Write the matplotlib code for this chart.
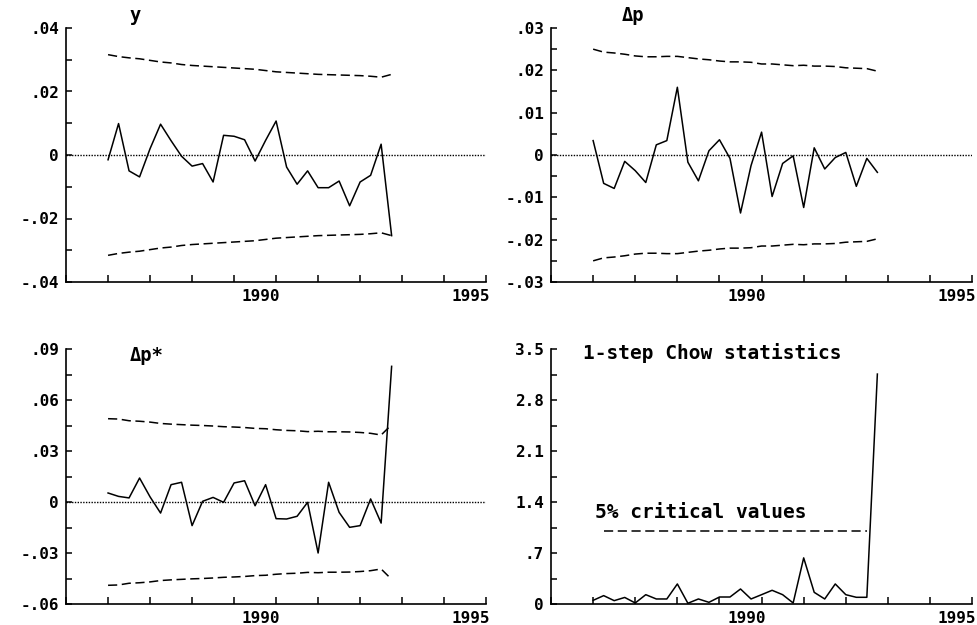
import numpy as np
import pandas as pd
import matplotlib
matplotlib.use("Agg")
import matplotlib.pyplot as plt
import matplotlib.transforms as mtransforms
from matplotlib.ticker import MultipleLocator, FuncFormatter

# quarterly sample 1986(1) - 1992(4)
periods = pd.period_range("1986Q1", "1992Q4", freq="Q")

# 1-step residuals and +-2SE bands
y_res = [-0.0015, 0.0099, -0.0050, -0.0069, 0.0020, 0.0097, 0.0045, -0.0004,
         -0.0035, -0.0027, -0.0085, 0.0062, 0.0059, 0.0048, -0.0019, 0.0046,
         0.0107, -0.0038, -0.0092, -0.0050, -0.0103, -0.0103, -0.0082, -0.0160,
         -0.0085, -0.0064, 0.0034, -0.0254]
y_se2 = [0.0316, 0.0310, 0.0306, 0.0303, 0.0298, 0.0293, 0.0290, 0.0285,
         0.0282, 0.0280, 0.0278, 0.0276, 0.0274, 0.0272, 0.0270, 0.0266,
         0.0262, 0.0260, 0.0258, 0.0256, 0.0254, 0.0253, 0.0252, 0.0251,
         0.0250, 0.0248, 0.0245, 0.0254]

dp_res = [0.0034, -0.0067, -0.0079, -0.0015, -0.0037, -0.0065, 0.0024, 0.0034,
          0.0160, -0.0017, -0.0061, 0.0010, 0.0036, -0.0008, -0.0137, -0.0025,
          0.0054, -0.0098, -0.0020, -0.0002, -0.0124, 0.0017, -0.0033, -0.0006,
          0.0006, -0.0074, -0.0008, -0.0041]
dp_se2 = [0.0250, 0.0243, 0.0241, 0.0238, 0.0234, 0.0232, 0.0232, 0.0233,
          0.0233, 0.0230, 0.0227, 0.0225, 0.0222, 0.0220, 0.0220, 0.0219,
          0.0215, 0.0215, 0.0213, 0.0211, 0.0212, 0.0210, 0.0210, 0.0209,
          0.0206, 0.0205, 0.0204, 0.0198]

dps_res = [0.0053, 0.0033, 0.0024, 0.0141, 0.0030, -0.0065, 0.0102, 0.0116,
           -0.0139, 0.0004, 0.0027, -0.0002, 0.0112, 0.0125, -0.0022, 0.0102,
           -0.0098, -0.0100, -0.0084, -0.0002, -0.0300, 0.0116, -0.0061, -0.0149,
           -0.0139, 0.0018, -0.0124, 0.0798]
dps_se2 = [0.0490, 0.0488, 0.0478, 0.0475, 0.0470, 0.0462, 0.0458, 0.0455,
           0.0452, 0.0450, 0.0447, 0.0443, 0.0441, 0.0438, 0.0433, 0.0431,
           0.0425, 0.0421, 0.0419, 0.0414, 0.0416, 0.0413, 0.0413, 0.0412,
           0.0409, 0.0404, 0.0394, 0.0455]

# 1-step Chow statistics (scaled by 5% critical values)
chow = [0.050, 0.115, 0.046, 0.090, 0.014, 0.128, 0.069, 0.069,
        0.275, 0.010, 0.069, 0.023, 0.096, 0.096, 0.206, 0.069,
        0.128, 0.188, 0.128, 0.014, 0.633, 0.160, 0.069, 0.275,
        0.128, 0.092, 0.092, 3.156]
chow_crit = [1.0, 1.0, 1.0, 1.0, 1.0, 1.0, 1.0, 1.0, 1.0, 1.0, 1.0, 1.0, 1.0,
             1.0, 1.0, 1.0, 1.0, 1.0, 1.0, 1.0, 1.0, 1.0, 1.0, 1.0, 1.0, 1.0]

x = np.array([p.year + (p.quarter - 1) / 4 for p in periods])

FONT = dict(family="DejaVu Sans Mono", weight="bold")


def fmt(v, pos):
    if abs(v) < 1e-9:
        return "0"
    s = ("%g" % v)
    return s.replace("0.", ".")


def setup(ax, ylim, major, minor):
    ax.set_xlim(1985, 1995)
    ax.set_ylim(*ylim)
    for s in ("top", "right"):
        ax.spines[s].set_visible(False)
    for s in ("left", "bottom"):
        ax.spines[s].set_linewidth(1.2)
    ax.xaxis.set_major_locator(MultipleLocator(5))
    ax.xaxis.set_minor_locator(MultipleLocator(1))
    ax.yaxis.set_major_locator(MultipleLocator(major))
    ax.yaxis.set_minor_locator(MultipleLocator(minor))
    ax.yaxis.set_major_formatter(FuncFormatter(fmt))
    ax.xaxis.set_major_formatter(FuncFormatter(lambda v, p: "" if v < 1990 else "%d" % v))
    ax.tick_params(axis="x", which="both", direction="in", length=5, width=1.1, pad=5)
    ax.tick_params(axis="y", which="both", direction="in", length=4, width=1.1, pad=5)
    # year labels sit just left of their tick, as in the original
    shift = mtransforms.ScaledTranslation(4 / 100, 0, ax.figure.dpi_scale_trans)
    for lab in ax.get_xticklabels():
        lab.set_horizontalalignment("right")
        lab.set_transform(lab.get_transform() + shift)
    for lab in ax.get_xticklabels() + ax.get_yticklabels():
        lab.set_fontfamily(FONT["family"])
        lab.set_fontweight("bold")
        lab.set_fontsize(11.5)


def resid_panel(ax, res, se2, ylim, major, minor, title, tx, ty):
    setup(ax, ylim, major, minor)
    se2 = np.array(se2)
    ax.plot(x, res, color="black", lw=1.1)
    ax.plot(x, se2, color="black", lw=1.1, dashes=(6, 3))
    ax.plot(x, -se2, color="black", lw=1.1, dashes=(6, 3))
    ax.axhline(0, color="black", lw=1.0, ls=(0, (1, 1)))
    ax.text(tx, ty, title, transform=ax.transAxes, fontsize=13.5, ha="left", va="center", **FONT)


fig = plt.figure(figsize=(9.77, 6.25), dpi=100)
ax1 = fig.add_axes([0.0676, 0.5488, 0.430, 0.4064])
ax2 = fig.add_axes([0.564, 0.5488, 0.431, 0.4064])
ax3 = fig.add_axes([0.0676, 0.0336, 0.430, 0.408])
ax4 = fig.add_axes([0.564, 0.0336, 0.431, 0.408])

resid_panel(ax1, y_res, y_se2, (-0.04, 0.04), 0.02, 0.01, "y", 0.15, 1.05)
resid_panel(ax2, dp_res, dp_se2, (-0.03, 0.03), 0.01, 0.005, "\u0394p", 0.169, 1.05)
resid_panel(ax3, dps_res, dps_se2, (-0.06, 0.09), 0.03, 0.015, "\u0394p*", 0.152, 0.975)

setup(ax4, (0, 3.5), 0.7, 0.35)
ax4.plot(x, chow, color="black", lw=1.1)
ax4.plot(x[1:27], chow_crit, color="black", lw=1.1, dashes=(6, 3))
ax4.text(0.076, 0.985, "1-step Chow statistics", transform=ax4.transAxes,
         fontsize=14, ha="left", va="center", **FONT)
ax4.text(1986.05, 1.26, "5% critical values", fontsize=14, ha="left", va="center", **FONT)

fig.savefig("out.png", dpi=100)
